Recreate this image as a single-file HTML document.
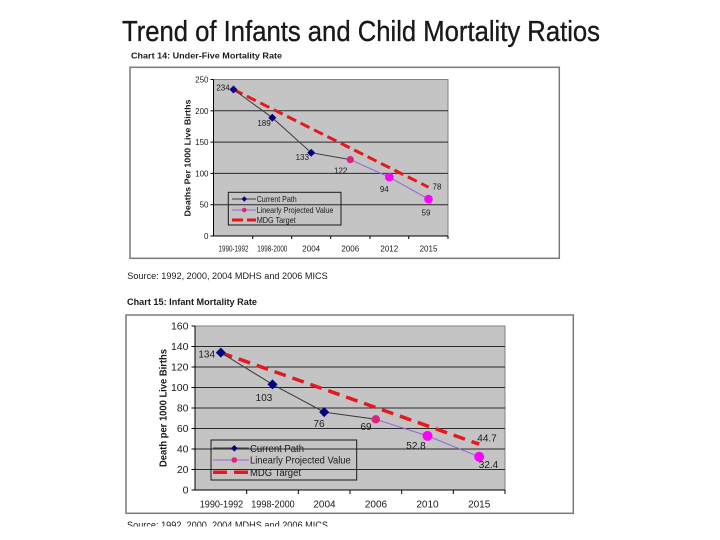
<!DOCTYPE html>
<html>
<head>
<meta charset="utf-8">
<style>
html,body{margin:0;padding:0;background:#fff;}
svg{display:block;}
text{font-family:"Liberation Sans",Arial,sans-serif;fill:#1a1a1a;}
</style>
</head>
<body>
<svg width="720" height="540" viewBox="0 0 720 540" xmlns="http://www.w3.org/2000/svg">
<rect width="720" height="540" fill="#fff"/>
<!-- Main title -->
<text x="122" y="41" font-size="29" textLength="478" lengthAdjust="spacingAndGlyphs" fill="#000" stroke="#000" stroke-width="0.3">Trend of Infants and Child Mortality Ratios</text>

<!-- ============ CHART 14 ============ -->
<text x="131" y="58.5" font-size="8.5" font-weight="bold" textLength="151" lengthAdjust="spacingAndGlyphs">Chart 14: Under-Five Mortality Rate</text>
<rect x="130" y="67.3" width="429.3" height="191" fill="#fff" stroke="#7a7a7a" stroke-width="1.5"/>
<rect x="213.5" y="79.5" width="234.5" height="156.5" fill="#c4c4c4" stroke="#808080" stroke-width="1"/>
<g stroke="#2a2a2a" stroke-width="1">
<line x1="213.5" y1="110.8" x2="448" y2="110.8"/>
<line x1="213.5" y1="142.1" x2="448" y2="142.1"/>
<line x1="213.5" y1="173.4" x2="448" y2="173.4"/>
<line x1="213.5" y1="204.7" x2="448" y2="204.7"/>
</g>
<g stroke="#000" stroke-width="1">
<line x1="213.5" y1="79.5" x2="213.5" y2="236"/>
<line x1="213.5" y1="236" x2="448" y2="236"/>
<line x1="210.5" y1="79.5" x2="213.5" y2="79.5"/>
<line x1="210.5" y1="110.8" x2="213.5" y2="110.8"/>
<line x1="210.5" y1="142.1" x2="213.5" y2="142.1"/>
<line x1="210.5" y1="173.4" x2="213.5" y2="173.4"/>
<line x1="210.5" y1="204.7" x2="213.5" y2="204.7"/>
<line x1="210.5" y1="236" x2="213.5" y2="236"/>
<line x1="252.7" y1="236" x2="252.7" y2="239"/>
<line x1="291.7" y1="236" x2="291.7" y2="239"/>
<line x1="330.7" y1="236" x2="330.7" y2="239"/>
<line x1="370" y1="236" x2="370" y2="239"/>
<line x1="408.7" y1="236" x2="408.7" y2="239"/>
<line x1="448" y1="236" x2="448" y2="239"/>
</g>
<g font-size="8" text-anchor="end">
<text x="208.5" y="82.5">250</text>
<text x="208.5" y="113.8">200</text>
<text x="208.5" y="145.1">150</text>
<text x="208.5" y="176.4">100</text>
<text x="208.5" y="207.7">50</text>
<text x="208.5" y="239">0</text>
</g>
<g font-size="8" text-anchor="middle">
<text x="233.5" y="251.5" textLength="30" lengthAdjust="spacingAndGlyphs">1990-1992</text>
<text x="272.3" y="251.5" textLength="30" lengthAdjust="spacingAndGlyphs">1998-2000</text>
<text x="311.2" y="251.5">2004</text>
<text x="350.3" y="251.5">2006</text>
<text x="389.3" y="251.5">2012</text>
<text x="428.5" y="251.5">2015</text>
</g>
<text transform="translate(190.5,158) rotate(-90)" font-size="8" font-weight="bold" text-anchor="middle" textLength="117" lengthAdjust="spacingAndGlyphs">Deaths Per 1000 Live Births</text>
<line x1="233.5" y1="89.5" x2="428.5" y2="187.2" stroke="#e4191f" stroke-width="3" stroke-dasharray="10,5"/>
<polyline points="233.5,89.5 272.3,117.7 311.2,152.7 350.3,159.6" fill="none" stroke="#3a3a3a" stroke-width="1"/>
<polyline points="350.3,159.6 389.3,177.2 428.5,199.1" fill="none" stroke="#9a5fd6" stroke-width="1"/>
<g fill="#000080">
<polygon points="233.5,85.5 237.5,89.5 233.5,93.5 229.5,89.5"/>
<polygon points="272.3,113.7 276.3,117.7 272.3,121.7 268.3,117.7"/>
<polygon points="311.2,148.7 315.2,152.7 311.2,156.7 307.2,152.7"/>
</g>
<circle cx="350.3" cy="159.6" r="3.6" fill="#e2217f"/>
<circle cx="389.3" cy="177.2" r="4.3" fill="#ff00ff"/>
<circle cx="428.5" cy="199.1" r="4.3" fill="#ff00ff"/>
<g font-size="8" text-anchor="middle">
<text x="223" y="90.5">234</text>
<text x="264" y="126">189</text>
<text x="302.3" y="160">133</text>
<text x="340.7" y="173.4">122</text>
<text x="384.3" y="192">94</text>
<text x="426" y="215.4">59</text>
<text x="437" y="189.4">78</text>
</g>
<rect x="228.3" y="192.3" width="112.7" height="32.7" fill="none" stroke="#1a1a1a" stroke-width="1"/>
<line x1="232" y1="199" x2="256" y2="199" stroke="#3a3a3a" stroke-width="1"/>
<polygon points="244.3,196.3 247,199 244.3,201.7 241.6,199" fill="#000080"/>
<line x1="232" y1="210" x2="256" y2="210" stroke="#9a5fd6" stroke-width="1"/>
<circle cx="244.3" cy="210" r="2.3" fill="#e2217f"/>
<line x1="232" y1="220" x2="256" y2="220" stroke="#e4191f" stroke-width="3" stroke-dasharray="11,4"/>
<g font-size="8.3">
<text x="256.7" y="202" textLength="40" lengthAdjust="spacingAndGlyphs">Current Path</text>
<text x="256.7" y="213" textLength="76.6" lengthAdjust="spacingAndGlyphs">Linearly Projected Value</text>
<text x="256.7" y="223" textLength="39" lengthAdjust="spacingAndGlyphs">MDG Target</text>
</g>
<text x="127.3" y="279" font-size="9.5" textLength="200.4" lengthAdjust="spacingAndGlyphs">Source: 1992, 2000, 2004 MDHS and 2006 MICS</text>

<!-- ============ CHART 15 ============ -->
<text x="127" y="305" font-size="9.5" font-weight="bold" textLength="130" lengthAdjust="spacingAndGlyphs">Chart 15: Infant Mortality Rate</text>
<rect x="126" y="315" width="447.3" height="198.3" fill="#fff" stroke="#7a7a7a" stroke-width="1.5"/>
<rect x="195" y="326" width="310" height="164" fill="#c4c4c4" stroke="#808080" stroke-width="1"/>
<g stroke="#2a2a2a" stroke-width="1">
<line x1="195" y1="346.5" x2="505" y2="346.5"/>
<line x1="195" y1="367" x2="505" y2="367"/>
<line x1="195" y1="387.5" x2="505" y2="387.5"/>
<line x1="195" y1="408" x2="505" y2="408"/>
<line x1="195" y1="428.5" x2="505" y2="428.5"/>
<line x1="195" y1="449" x2="505" y2="449"/>
<line x1="195" y1="469.5" x2="505" y2="469.5"/>
</g>
<g stroke="#000" stroke-width="1">
<line x1="195" y1="326" x2="195" y2="490"/>
<line x1="195" y1="490" x2="505" y2="490"/>
<line x1="191.5" y1="326" x2="195" y2="326"/>
<line x1="191.5" y1="346.5" x2="195" y2="346.5"/>
<line x1="191.5" y1="367" x2="195" y2="367"/>
<line x1="191.5" y1="387.5" x2="195" y2="387.5"/>
<line x1="191.5" y1="408" x2="195" y2="408"/>
<line x1="191.5" y1="428.5" x2="195" y2="428.5"/>
<line x1="191.5" y1="449" x2="195" y2="449"/>
<line x1="191.5" y1="469.5" x2="195" y2="469.5"/>
<line x1="191.5" y1="490" x2="195" y2="490"/>
<line x1="246.7" y1="490" x2="246.7" y2="494"/>
<line x1="298.3" y1="490" x2="298.3" y2="494"/>
<line x1="350" y1="490" x2="350" y2="494"/>
<line x1="401.7" y1="490" x2="401.7" y2="494"/>
<line x1="453.3" y1="490" x2="453.3" y2="494"/>
<line x1="505" y1="490" x2="505" y2="494"/>
</g>
<g font-size="10.5" text-anchor="end">
<text x="188.5" y="329.7">160</text>
<text x="188.5" y="350.2">140</text>
<text x="188.5" y="370.7">120</text>
<text x="188.5" y="391.2">100</text>
<text x="188.5" y="411.7">80</text>
<text x="188.5" y="432.2">60</text>
<text x="188.5" y="452.7">40</text>
<text x="188.5" y="473.2">20</text>
<text x="188.5" y="493.7">0</text>
</g>
<g font-size="10" text-anchor="middle">
<text x="221.5" y="507.5" textLength="43.5" lengthAdjust="spacingAndGlyphs">1990-1992</text>
<text x="273" y="507.5" textLength="43.5" lengthAdjust="spacingAndGlyphs">1998-2000</text>
<text x="324.5" y="507.5">2004</text>
<text x="376" y="507.5">2006</text>
<text x="427.5" y="507.5">2010</text>
<text x="479.2" y="507.5">2015</text>
</g>
<text transform="translate(166.5,408) rotate(-90)" font-size="10" font-weight="bold" text-anchor="middle" textLength="118" lengthAdjust="spacingAndGlyphs">Death per 1000 Live Births</text>
<line x1="220.8" y1="352.6" x2="479.2" y2="444.2" stroke="#e4191f" stroke-width="3.5" stroke-dasharray="12,7"/>
<polyline points="220.8,352.6 272.5,384.4 324.2,412.1 375.8,419.3" fill="none" stroke="#3a3a3a" stroke-width="1"/>
<polyline points="375.8,419.3 427.5,435.9 479.2,456.8" fill="none" stroke="#9a5fd6" stroke-width="1"/>
<g fill="#000080">
<polygon points="220.8,347.6 225.8,352.6 220.8,357.6 215.8,352.6"/>
<polygon points="272.5,379.4 277.5,384.4 272.5,389.4 267.5,384.4"/>
<polygon points="324.2,407.1 329.2,412.1 324.2,417.1 319.2,412.1"/>
</g>
<circle cx="375.8" cy="419.3" r="4.2" fill="#e2217f"/>
<circle cx="427.5" cy="435.9" r="5" fill="#ff00ff"/>
<circle cx="479.2" cy="456.8" r="5" fill="#ff00ff"/>
<g font-size="10" text-anchor="middle">
<text x="206.7" y="357.5">134</text>
<text x="264" y="401">103</text>
<text x="319" y="427">76</text>
<text x="366" y="430">69</text>
<text x="416" y="449">52.8</text>
<text x="487" y="441.5">44.7</text>
<text x="488.5" y="468">32.4</text>
</g>
<rect x="211" y="440" width="145.7" height="40" fill="none" stroke="#1a1a1a" stroke-width="1"/>
<line x1="213" y1="448.3" x2="249" y2="448.3" stroke="#3a3a3a" stroke-width="1.5"/>
<polygon points="234.3,445 237.6,448.3 234.3,451.6 231,448.3" fill="#000080"/>
<line x1="213" y1="460" x2="249" y2="460" stroke="#9a5fd6" stroke-width="1"/>
<circle cx="234.3" cy="460" r="2.8" fill="#e2217f"/>
<line x1="213" y1="472.3" x2="249" y2="472.3" stroke="#e4191f" stroke-width="3.5" stroke-dasharray="14,7"/>
<g font-size="10">
<text x="250" y="452" textLength="54" lengthAdjust="spacingAndGlyphs">Current Path</text>
<text x="250" y="463.7" textLength="100.7" lengthAdjust="spacingAndGlyphs">Linearly Projected Value</text>
<text x="250" y="476" textLength="51" lengthAdjust="spacingAndGlyphs">MDG Target</text>
</g>
<clipPath id="srcclip"><rect x="120" y="514" width="300" height="12.5"/></clipPath>
<text x="127" y="528.5" font-size="10" textLength="201" lengthAdjust="spacingAndGlyphs" clip-path="url(#srcclip)">Source: 1992, 2000, 2004 MDHS and 2006 MICS</text>
</svg>
</body>
</html>
